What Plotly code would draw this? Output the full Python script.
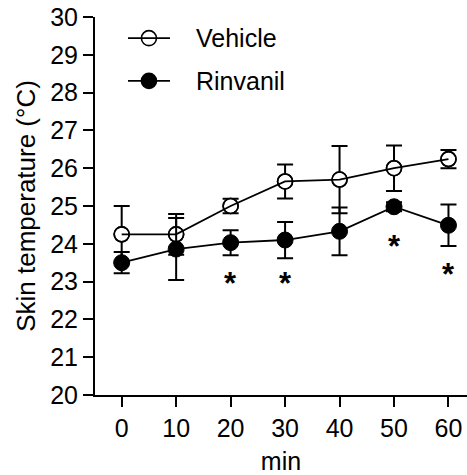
import plotly.graph_objects as go

# Skin temperature time course (mean ± SEM)
minutes = [0, 10, 20, 30, 40, 50, 60]
vehicle_mean = [24.25, 24.25, 25.0, 25.65, 25.7, 26.0, 26.24]
vehicle_sem = [0.75, 0.54, 0.19, 0.45, 0.89, 0.6, 0.24]
rinvanil_mean = [23.5, 23.86, 24.03, 24.1, 24.33, 24.98, 24.49]
rinvanil_sem = [0.28, 0.82, 0.33, 0.48, 0.63, 0.12, 0.55]

# significance marks (time point, height of the star in °C)
sig_minutes = [20, 30, 50, 60]
sig_height = [22.96, 22.96, 23.93, 23.18]

y_ticks = [20, 21, 22, 23, 24, 25, 26, 27, 28, 29, 30]
x_ticks = [0, 10, 20, 30, 40, 50, 60]

series_names = ["Vehicle", "Rinvanil"]

FONT = "Arial, Liberation Sans, Helvetica, sans-serif"
BLACK = "#000000"
FS = 25

err_style = dict(type="data", visible=True, color=BLACK, thickness=2, width=8)

fig = go.Figure()

# Vehicle: white-filled circles with error bars, connecting line drawn on top
fig.add_trace(go.Scatter(
    x=minutes, y=vehicle_mean, mode="markers", showlegend=False,
    error_y=dict(array=vehicle_sem, **err_style),
    marker=dict(symbol="circle", size=15, color="white",
                line=dict(color=BLACK, width=1.6)),
    hoverinfo="skip",
))
fig.add_trace(go.Scatter(
    x=minutes, y=vehicle_mean, mode="lines+markers", name=series_names[0],
    showlegend=False,
    line=dict(color=BLACK, width=1.8),
    marker=dict(symbol="circle-open", size=15, color=BLACK,
                line=dict(color=BLACK, width=1.6)),
))

# Rinvanil: filled circles
fig.add_trace(go.Scatter(
    x=minutes, y=rinvanil_mean, mode="lines+markers", name=series_names[1],
    showlegend=False,
    error_y=dict(array=rinvanil_sem, **err_style),
    line=dict(color=BLACK, width=1.8),
    marker=dict(symbol="circle", size=16, color=BLACK,
                line=dict(color=BLACK, width=1)),
))

for xm, ym in zip(sig_minutes, sig_height):
    fig.add_annotation(
        x=xm, y=ym, xref="x", yref="y", text="<b>*</b>", showarrow=False,
        font=dict(family=FONT, size=31, color=BLACK),
        xanchor="center", yanchor="middle",
    )

# Key in the upper-left corner: line sample, circle, label
key_rows = [(0.944, "white"), (0.831, BLACK)]
for name, (ky, fill) in zip(series_names, key_rows):
    fig.add_shape(type="line", xref="paper", yref="paper",
                  x0=0.0887, x1=0.2016, y0=ky, y1=ky,
                  line=dict(color=BLACK, width=1.8), layer="above")
    fig.add_shape(type="circle", xref="paper", yref="paper",
                  xsizemode="pixel", ysizemode="pixel",
                  xanchor=0.145, yanchor=ky,
                  x0=-7.5, x1=7.5, y0=-7.5, y1=7.5,
                  fillcolor=fill if fill == BLACK else "rgba(0,0,0,0)",
                  line=dict(color=BLACK, width=1.6), layer="above")
    fig.add_annotation(x=0.266, y=ky, xref="paper", yref="paper",
                       text=name, showarrow=False, xanchor="left", yanchor="middle",
                       font=dict(family=FONT, size=FS, color=BLACK))

fig.update_layout(
    width=467, height=475,
    margin=dict(l=95, r=0, t=17, b=80),
    paper_bgcolor="white", plot_bgcolor="white",
    font=dict(family=FONT, size=FS, color=BLACK),
    showlegend=False,
)

fig.update_xaxes(
    range=[-4.9, 63.4], tickvals=x_ticks, ticktext=[str(t) for t in x_ticks],
    showgrid=False, zeroline=False, showline=True, linecolor=BLACK, linewidth=2,
    ticks="outside", ticklen=10, tickwidth=2, tickcolor=BLACK,
    tickfont=dict(family=FONT, size=FS, color=BLACK),
    title=dict(text="min", font=dict(family=FONT, size=FS, color=BLACK), standoff=16),
)
fig.update_yaxes(
    range=[20, 30], tickvals=y_ticks, ticktext=[str(t) for t in y_ticks],
    showgrid=False, zeroline=False, showline=True, linecolor=BLACK, linewidth=2,
    ticks="outside", ticklen=10, tickwidth=2, tickcolor=BLACK,
    tickfont=dict(family=FONT, size=FS, color=BLACK),
    title=dict(text="Skin temperature (°C)", font=dict(family=FONT, size=26, color=BLACK), standoff=7),
)

fig.write_html("out.html")
